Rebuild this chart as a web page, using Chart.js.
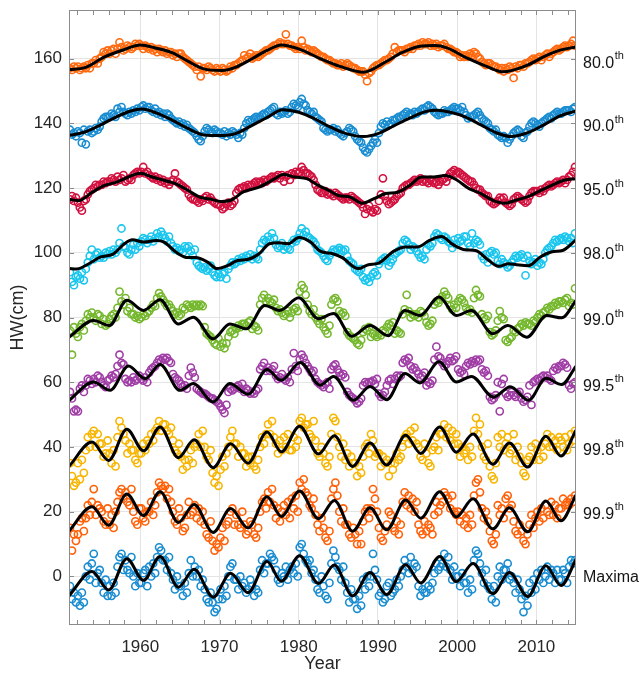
<!DOCTYPE html>
<html>
<head>
<meta charset="utf-8">
<script src="https://cdn.jsdelivr.net/npm/chart.js@4.4.1/dist/chart.umd.min.js"></script>
<style>
  html, body { margin: 0; padding: 0; background: #ffffff; }
  canvas { display: block; }
</style>
</head>
<body>
<canvas id="chart" width="644" height="677"></canvas>
<script>
// High-water percentiles (cm), four samples per year, 1951-2014, each level shifted by 20 cm
const hw80 = [
  157,156.5,157.5,157, 157.5,156.5,157,157.5, 157,158,157,158.5, 158.5,159.5,158.5,160,
  160.5,162,161.5,162.5, 161.5,162.5,163,161.5, 163,165,163.5,162.5, 163,164,163.5,163,
  163.5,164.5,164,164.5, 164,163,164,163.5, 163,163.5,162.5,163, 162,163,162.5,162,
  162.5,161.5,162,162, 161,161.5,160.5,161.5, 161.5,160.5,160,159.5, 159,158.5,158,157.5,
  156.5,157.5,154.5,157, 157,156.5,157.5,157, 156.5,156,157,156.5, 156,157,156.5,156,
  156.5,157.5,157,158, 158,158.5,159,159.5, 161,160,160.5,161.5, 160,160.5,161,160.5,
  161,161.5,162,162.5, 162.5,163,163.5,164, 164,164.5,165,164.5, 164.5,167.5,164.5,164,
  164,163.5,163,163.5, 163,165.5,163.5,162.5, 163,162.5,162,162.5, 162,161.5,161,160.5,
  160.5,160,159.5,159.5, 159,158.5,158.5,158, 158,158.5,157.5,158, 158.5,158,157.5,157,
  157,156.5,156,156, 156,155,153,155.5, 156,157,157.5,158, 158,158.5,159,159.5,
  159.5,160,160.5,161.5, 163.5,162,162.5,162.5, 162.5,162,163,163, 163.5,163,164,164,
  164.5,164,165,164.5, 164.5,165,164,164.5, 164,164.5,163.5,164, 164,164.5,163.5,163,
  163,162.5,162,162, 161.5,160.5,161,160.5, 161,160.5,161.5,161, 162,161.5,160.5,160,
  159,158.5,158,158.5, 158.5,158,157.5,157.5, 157,156.5,157,156, 157,156.5,157.5,157,
  154,157.5,157,158, 158,157.5,158.5,158.5, 159,159.5,160,159.5, 160,160.5,159.5,160.5,
  161,161.5,160.5,161.5, 162,162.5,163,162.5, 163,163.5,164,163.5, 164,164.5,165.5,164
];
const hw90 = [
  138,136.5,137,136, 137.5,137,134,138, 133.5,137.5,138,137, 137.5,138.5,138,139,
  140.5,141.5,142,142, 142,143,142.5,142, 144.5,143.5,145,143.5, 143,142.5,143.5,143,
  144,143.5,144.5,144, 145,145.5,144.5,145, 145,144,143.5,144.5, 143,143.5,142.5,143,
  142,143,142.5,141.5, 141,140.5,140,140.5, 139.5,140,139,139.5, 138.5,138,137.5,137,
  136,135,134.5,136, 137.5,138.5,138,137.5, 137,138,137.5,137, 137,136.5,137.5,136,
  137,136.5,137.5,137, 136.5,135.5,137,136.5, 138.5,140,141,140.5, 141,141.5,142,141.5,
  142,142.5,143,142.5, 143.5,144,144.5,145, 143,142.5,143.5,143, 143.5,144,143,143.5,
  145,146,145.5,145, 146.5,147.5,146,145.5, 144,143.5,143,143.5, 142,141.5,141,140.5,
  138.5,138,137.5,138, 138,138.5,137.5,138, 137,136.5,136,137, 137.5,138.5,138,137.5,
  136,135,134.5,134, 132.5,131.5,131,132, 133,134,135,134, 137,139,140,139.5,
  140.5,139.5,140,141, 141,141.5,142,141.5, 142.5,143,143.5,142.5, 143,142.5,143.5,143,
  143.5,144,144.5,144, 145,145.5,145,144.5, 143.5,143,142.5,143, 143,144,143.5,143.5,
  144,144.5,145,144.5, 144.5,144,145,143.5, 142.5,141.5,142,142, 142.5,143,143.5,142.5,
  141.5,141,140.5,140, 138.5,138,137.5,138, 136.5,136,135.5,136, 135.5,134,135,136,
  137,137.5,138,137.5, 136,135.5,137,137.5, 139,140,140.5,140, 139.5,139,140,140.5,
  141,141.5,142,141.5, 142.5,143,143.5,143, 143,143.5,144,144, 144,143.5,144.5,145
];
const hw95 = [
  116.5,117.5,116,117, 115.5,114,113,116, 116.5,118,119,119.5, 120,121,120.5,121,
  121,122,121.5,122, 122,123,122.5,122, 123.5,122.5,123,124, 122,122.5,123,122.5,
  124,124.5,125,124.5, 125,126.5,124.5,125, 124,123.5,123,123.5, 122.5,123,122,122.5,
  121.5,122,121,122, 122.5,124.5,122,121.5, 121,120.5,120,119.5, 118,117,116.5,116.5,
  116,115.5,116.5,116, 117,117.5,116.5,117, 116,115.5,115,115, 114.5,113.5,114,115,
  115.5,114.5,115,116, 118.5,119.5,120,120, 120.5,120,121,120.5, 121,121.5,122,121.5,
  122,121.5,122.5,122, 122.5,123,123.5,123, 123.5,124,123,124, 122,123.5,124,122.5,
  124.5,124,125,124.5, 125,126.5,125.5,124.5, 124.5,124,123.5,122.5, 121,119.5,119,118.5,
  118.5,119,118,118.5, 118,117.5,118.5,118, 117.5,117,116.5,117, 117,116.5,117.5,117,
  116.5,116,115.5,115, 114,112,113.5,114.5, 113,112.5,113.5,113, 116,118,123,117.5,
  116,115,115.5,116, 116.5,117.5,118,118.5, 120,120.5,121,121, 121.5,122,122.5,122,
  122.5,123,122,122.5, 122,121.5,122.5,122, 121.5,122,121,122, 122.5,123,122,123.5,
  124.5,125,125.5,124.5, 125,124.5,124,123.5, 123,122.5,122,122, 121,120,119.5,119.5,
  118.5,118,117.5,117.5, 116,115.5,115,115.5, 116,117,116.5,117, 115.5,115,114.5,115,
  116.5,117,117.5,117, 116.5,116,115.5,116, 117.5,118.5,119,119, 119,118.5,119.5,119,
  120,120.5,121,120.5, 121,121.5,122,121.5, 122,122.5,121.5,122.5, 123.5,124,125,126.5
];
const hw98 = [
  94,91,90,92.5, 93,92,94,91.5, 95,97,99,101, 98,99.5,100,98.5,
  99,98.5,100,99.5, 100.5,99.5,101,100, 101,103,107.5,102, 101.5,100,99.5,101,
  102.5,101,103,102, 103.5,104.5,104,103, 104,105,103.5,104.5, 106,105,106.5,105.5,
  104.5,103.5,105,103, 102,101,101.5,100.5, 101,100,102,101.5, 102,100.5,99,101,
  97,96,95.5,95, 95.5,94.5,95,96, 94,93,92.5,93.5, 92.5,93.5,94,92,
  95,96,97,96.5, 97,98,97.5,98.5, 98,99,98.5,99.5, 98,99,98.5,98,
  101,103,104,103.5, 105,104,106,104.5, 102.5,101.5,102,103, 101,102,101.5,101,
  103,104,103.5,104.5, 106,107.5,105.5,106.5, 105,104.5,104,103.5, 102.5,101,100.5,100,
  99,98,97.5,99, 100,101,100.5,101, 101.5,101,100.5,101, 99,97.5,97,96.5,
  95,94.5,94,95, 92.5,91.5,92,91, 92.5,93.5,94,93, 96.5,97.5,98,98.5,
  97.5,96,97,98, 99.5,100,100.5,101, 103,104,103.5,102.5, 101,102,101.5,100.5,
  99.5,98.5,99,98, 101,102.5,102,103, 105,106,105.5,104.5, 104,105,104.5,103.5,
  103,101.5,104,102.5, 104.5,103.5,104,105, 105,103,102,106, 103,104,103.5,102.5,
  99,98,99.5,97, 100,100.5,99.5,100, 97.5,96.5,98,97, 96.5,95.5,96,97,
  98,99,98.5,99, 99.5,98.5,93,99, 97.5,96.5,97,98, 96,97,96.5,98,
  100,101,101.5,102, 103,104,103.5,104, 104.5,104,105,104.5, 103.5,104.5,103,106
];
const hw99 = [
  76,68.5,77,75, 74,77,78,76, 79,81,80,81.5, 80,79,81,80.5,
  78,79.5,77.5,78, 79.5,80.5,81,80, 83,88,85,84, 86,82,83,81,
  81,80,80.5,79.5, 80,81,80.5,81.5, 82,83,84,83.5, 86,87.5,86.5,85.5,
  84.5,83.5,84,83, 82,81,81.5,80.5, 81,83,82.5,84, 83.5,83,84,83.5,
  84,83.5,84,83.5, 77,75,74.5,74, 73,72,71.5,73.5, 71,72,70.5,72,
  74,75.5,76,75, 76.5,77.5,77,78, 78,77.5,78.5,79, 76.5,77.5,77,76,
  84,86,87,85, 86,85,84.5,85.5, 83,82,82.5,81.5, 80.5,81,82,80,
  81.5,82.5,83,82, 88,90,89,87, 84,82,81,82.5, 80,79,78,79.5,
  77,76,75,77.5, 84,85.5,86,85, 82,81,81.5,80.5, 75.5,74.5,74,73.5,
  73,72,71.5,73, 75.5,76.5,76,77, 74,75,74.5,74, 75,74.5,76,75.5,
  77,78,77.5,78.5, 75,76,75.5,75, 81,82.5,87,82, 80,81,80.5,81,
  80,82,81.5,80.5, 78.5,77.5,78,79, 84,85,84.5,85.5, 86.5,88,87,86,
  83.5,82.5,84,83, 85,86,85.5,84.5, 83,82,82.5,81.5, 86,88.5,87,86.5,
  81,80,79.5,80.5, 75.5,74.5,75,76, 79,82,80,79.5, 73,72.5,73.5,74,
  76,75.5,76.5,77, 78,77.5,78.5,78, 78,77.5,79,78.5, 80,81,80.5,81.5,
  82,83,82.5,83.5, 83.5,84.5,84,85, 85,84.5,85.5,86, 83.5,84.5,84,89
];
const hw995 = [
  57,55,51,51.5, 51,58,59,57, 59,61,60.5,59.5, 61,60,62,61.5,
  60,59,58.5,60.5, 61,62,61.5,62.5, 65,68.5,66,65.5, 61,60,60.5,60,
  61.5,60.5,61,62, 61,60.5,61.5,60, 63,64,64.5,65, 66,67,66.5,67.5,
  67,67.5,66.5,66, 62.5,61.5,61,60.5, 59.5,58.5,59,58, 62,64.5,63,61.5,
  58,57.5,57,56.5, 56.5,56,55.5,55, 55,54.5,54,53.5, 52.5,51.5,50.5,53,
  57,58,57.5,58, 58.5,59,58,59.5, 57,58,57.5,56.5, 57,56.5,57.5,58,
  64,65,66,63.5, 64.5,63.5,64,65, 62,61,61.5,62.5, 61,60.5,61.5,60,
  64,69,65,63.5, 67,68.5,67.5,66, 65,64,63,63.5, 61,60,59.5,59,
  58.5,59.5,60,58, 64,65,65.5,64, 63,62,62.5,61.5, 57,56,55.5,55,
  54.5,53.5,54,55, 59,60,59.5,60, 60,60.5,59.5,61, 56.5,55.5,56,57,
  59,60.5,61,59.5, 61,62,61.5,62, 66,67,66.5,67.5, 65,64,64.5,63.5,
  62.5,61.5,62,63, 59,60,59.5,60.5, 67,71,68,67.5, 66,65,65.5,66.5,
  67.5,66.5,67,68, 64,63,63.5,62.5, 65,66,65.5,66.5, 66,67,66.5,67,
  64,63,63.5,62, 55.5,54.5,55,56, 60,51,59.5,61, 56.5,55.5,56,57,
  56,55.5,56.5,57, 55,54,54.5,55.5, 59,53,60,60.5, 61,60.5,61.5,62,
  61.5,62,61,60.5, 63.5,64.5,64,65, 65,66,65.5,64.5, 59,58,59.5,60
];
const hw998 = [
  35,31,28,29, 35,30,36,32, 39,43,40,44, 45,40,44,41,
  41,37,38,42, 38,35,39,34, 43,48,46,44, 42,38,41,39,
  39,36,35,38, 38,41,39,42, 41,44,42,45, 46,48,45,47,
  47,45,44,46, 42,39,38,41, 37,33,36,34, 36,39,35,40,
  41,44,40,45, 40,37,36,39, 32,29,31,28, 33,37,34,38,
  40,43,45,41, 41,37,40,38, 38,34,37,35, 37,34,33,36,
  40,43,41,44, 47,44,48,43, 41,38,42,39, 43,40,44,39,
  39,43,40,42, 48,49,46,47, 47,44,43,48, 42,38,37,40,
  38,35,34,37, 44,49,48,43, 40,37,41,36, 38,34,37,35,
  35,31,34,32, 37,40,41,38, 44,42,37,38, 38,34,37,35,
  36,31,35,33, 35,38,36,37, 40,43,44,41, 45,42,46,41,
  40,37,36,41, 38,35,34,39, 40,43,39,44, 44,47,43,46,
  42,45,41,44, 41,37,40,38, 39,36,40,37, 45,49,44,47,
  40,37,36,41, 34,31,30,35, 43,40,44,39, 41,43,38,39,
  44,36,40,37, 35,32,31,36, 37,40,36,41, 39,36,40,37,
  41,44,40,43, 40,42,39,43, 42,40,43,39, 41,44,42,45
];
const hw999 = [
  15,8,13,11, 13,17,18,14, 18,22,19,23, 27,19,22,21,
  20,17,16,21, 16,19,15,20, 23,26,27,24, 26,23,22,27,
  20,17,16,21, 21,18,17,20, 20,23,19,22, 26,29,28,27,
  28,24,27,23, 20,17,16,21, 18,14,15,19, 23,19,20,22,
  18,21,17,20, 16,13,12,17, 11,8,10,9, 12,15,11,16,
  17,20,21,16, 19,16,15,20, 16,13,14,17, 16,13,12,15,
  20,23,24,21, 26,23,27,22, 18,21,17,20, 22,19,23,18,
  24,21,25,20, 29,27,30,26, 25,22,21,24, 19,16,14,18,
  15,12,11,14, 24,27,29,25, 20,17,21,16, 16,13,12,15,
  13,10,14,10, 17,20,21,18, 21,27,24,20, 15,12,11,14,
  16,20,19,15, 14,17,13,16, 23,26,22,25, 21,24,20,23,
  16,14,13,17, 14,16,15,13, 19,23,20,22, 23,26,25,24,
  21,25,20,19, 20,17,19,16, 18,15,19,16, 25,29,30,26,
  21,18,20,17, 14,11,10,13, 22,19,21,18, 24,25,21,22,
  17,14,13,16, 14,11,10,13, 16,19,15,18, 20,17,21,18,
  22,20,19,23, 19,22,18,21, 21,24,22,23, 22,24,23,25
];
const hwMax = [
  -3,-7,-5,-8, -6,-9,-5,-8, 0,3,-1,4, 7,-2,1,2,
  -2,-5,-1,-6, -3,-6,-2,-5, 3,6,7,2, 5,2,1,6,
  0,-3,1,-2, -2,1,2,-3, 3,0,4,1, 6,9,8,5,
  5,2,6,1, -1,-4,0,-3, -3,-6,-2,-5, 1,5,0,3,
  0,2,-3,-1, -4,-7,-8,-5, -8,-11,-10,-7, -4,-7,-3,-6,
  0,3,4,-1, -1,-4,0,-3, -2,-5,-4,-1, -3,-6,-4,-5,
  2,5,1,4, 4,7,6,5, 2,-1,-2,1, 0,3,-1,2,
  3,1,4,0, 9,10,7,5, 4,5,1,2, -1,-4,-5,0,
  -3,-6,-7,-2, 4,8,6,3, 2,-1,3,-2, -5,-8,-4,-7,
  -7,-10,-6,-9, -1,-4,0,-3, 0,7,2,-1, -6,-5,-8,-7,
  -3,-2,-6,-5, -4,-1,-3,0, 2,5,3,1, 6,2,4,3,
  -3,-6,-4,-5, -5,-3,-4,-2, 1,4,2,3, 4,7,3,6,
  2,-1,3,0, 0,-3,1,-2, -2,-5,-1,-4, 5,8,7,4,
  1,-2,2,-3, -4,-7,-3,-8, 0,3,-1,2, 2,4,-1,0,
  -2,-5,-1,-4, -7,-11,-6,-9, -2,-5,-1,-4, 1,-1,2,-2,
  0,3,-1,2, 1,-2,2,-1, -1,2,1,-2, 3,5,4,5
];

// Fitted nodal / perigean cycles: [year, value] knots
const fit80 = [[1951,156.6],[1953,157.2],[1955.5,160.5],[1958,162.8],[1960,164.2],[1962,163.2],[1964,161.8],[1966,159.2],[1968,156.8],[1970.3,156.3],[1972,157.3],[1974,159.8],[1976,162.5],[1977.8,164.2],[1980,163],[1982.7,160],[1985.2,157.6],[1988.2,155.8],[1991,159],[1993,161.8],[1995.3,163.8],[1997.2,164],[1998.7,163.3],[2001.2,160.2],[2003.7,157.6],[2005.8,155.9],[2008.8,157.9],[2011.3,161],[2013,162.6],[2015,163.6]];
const fit90 = [[1951,136.2],[1953,137.3],[1955,139.5],[1957,142],[1958.8,143.8],[1960.2,144.4],[1962,143.2],[1964,141],[1966,138.4],[1968,136.4],[1970,136.2],[1972,136.8],[1974,139.2],[1976,141.8],[1978,144.2],[1980,143.4],[1982,141.4],[1984,138.8],[1986,136.8],[1988.2,135.9],[1990,136.8],[1992,139.2],[1994,141.6],[1996,143.6],[1997.5,144],[1999,143.5],[2001,142],[2003,139.5],[2005,137],[2006.8,135.9],[2009,137.2],[2011,139.6],[2013,142.3],[2015,143.8]];
const fit95 = [[1951,116.5],[1952.2,116.1],[1954,118.8],[1955.5,120.8],[1957,121.8],[1958.5,123.4],[1960,124.6],[1961.5,123.4],[1963,122.4],[1964.5,121.3],[1966,119.3],[1967.5,117.2],[1969,116.5],[1970.3,115.8],[1971.5,116.3],[1973,118.8],[1975,120.3],[1977,122.9],[1978,124.2],[1979.5,123.4],[1981,122.9],[1982.5,120.8],[1984,119],[1985,117.7],[1986.5,117.2],[1988,115.3],[1989.5,116.7],[1991,118.3],[1992.5,118.7],[1994,120.8],[1995.5,123.4],[1997,123.4],[1998.5,123.9],[2000,122.4],[2001.5,119.8],[2003,118.3],[2004.5,116.2],[2006,115.3],[2007.5,116.3],[2009,117.4],[2010.5,119.2],[2012,120.9],[2013.5,122.4],[2015,122.9]];
const fit98 = [[1951,95.1],[1952,95],[1953.5,96.6],[1955,98.7],[1956.5,99.5],[1958,102.8],[1959,104],[1960.5,103.3],[1962,103.8],[1963,103.3],[1964.5,100.2],[1966,98.5],[1967,98.5],[1968.5,97.1],[1969.7,95.1],[1971,96],[1972.3,97.6],[1973.5,97.9],[1975,99.7],[1976.3,102.8],[1977.5,103.1],[1978.7,102.8],[1980,104.7],[1981.5,103.3],[1982.7,100.5],[1984.3,99.7],[1985.5,98.5],[1987.5,95.1],[1988.8,96.3],[1990,96.7],[1992,100.5],[1993.5,101.8],[1995,101.8],[1996.5,103.8],[1998,105],[1999.5,102.5],[2001,100.9],[2002.3,100.7],[2004,97.6],[2005.2,95.8],[2006.5,96.6],[2007.5,96.3],[2009,96],[2010.5,98.7],[2012,100.3],[2013.3,100.7],[2015,104]];
const fit99 = [[1951,73.9],[1954.1,79.1],[1956.1,77.5],[1958.3,85.3],[1960.4,82.2],[1962.5,85.5],[1964.8,78],[1966.7,80.1],[1969.2,73.4],[1971.3,78],[1973.4,76.5],[1975.7,83.7],[1977.6,82.2],[1980,86.1],[1982.5,79.6],[1984.4,81.2],[1986.7,74.2],[1989,77.5],[1991.3,74.4],[1993.4,82.2],[1995.3,80.6],[1997.7,86.3],[1999.9,80.6],[2001.8,82.2],[2004.5,75],[2006.4,77.5],[2008.8,73.9],[2011.3,80.6],[2013.2,79.9],[2015,85.3]];
const fit995 = [[1951,54.4],[1954.1,60.1],[1956.2,57.5],[1958.5,65],[1960.6,61.1],[1962.5,65.5],[1965,57.5],[1966.7,59.6],[1969.2,53.9],[1971.3,59.6],[1973.6,56.3],[1976,63.9],[1977.8,60.6],[1980.2,66.1],[1982.7,59.1],[1984.4,61.8],[1986.9,54.4],[1989,58.7],[1991.1,54.6],[1993.4,62.7],[1995.3,59.8],[1997.7,66.3],[1999.9,60.1],[2001.8,61.8],[2004.6,55.4],[2006.7,58.6],[2009,54.4],[2011.2,61.2],[2013.2,59.3],[2015,65]];
const fit998 = [[1951,34],[1953.9,41.5],[1956,35.8],[1958.3,45.5],[1960.4,38.8],[1962.5,46.2],[1964.8,36.7],[1966.8,42.2],[1969.2,33.6],[1971.4,41],[1973.6,35],[1976,44.6],[1977.8,38.5],[1980.1,46.4],[1982.5,37.8],[1984.5,43.5],[1986.8,34],[1989,41.2],[1991.1,34.4],[1993.5,43.6],[1995.4,38],[1997.8,46.2],[1999.9,38.4],[2002,44],[2004.5,34.7],[2006.6,41.2],[2008.9,33.8],[2011.2,43.3],[2013.1,37.2],[2015,45.2]];
const fit999 = [[1951,14],[1953.9,21.5],[1956,15.8],[1958.3,25.5],[1960.4,18.8],[1962.5,26.2],[1964.8,16.7],[1966.8,22.2],[1969.2,13.6],[1971.4,21],[1973.6,15],[1976,24.6],[1977.8,18.5],[1980.1,26.4],[1982.5,17.8],[1984.5,23.5],[1986.8,14],[1989,21.2],[1991.1,14.4],[1993.5,23.6],[1995.4,18],[1997.8,26.2],[1999.9,18.4],[2002,24],[2004.5,14.7],[2006.6,21.2],[2008.9,13.8],[2011.2,23.3],[2013.1,17.2],[2015,25.2]];
const fitMax = [[1951,-6],[1953.9,1.5],[1956,-4.2],[1958.3,5.5],[1960.4,-1.2],[1962.5,6.2],[1964.8,-3.3],[1966.8,2.2],[1969.2,-6.4],[1971.4,1],[1973.6,-5],[1976,4.6],[1977.8,-1.5],[1980.1,6.4],[1982.5,-2.2],[1984.5,3.5],[1986.8,-6],[1989,1.2],[1991.1,-5.6],[1993.5,3.6],[1995.4,-2],[1997.8,6.2],[1999.9,-1.6],[2002,4],[2004.5,-5.3],[2006.6,1.2],[2008.9,-6.2],[2011.2,3.3],[2013.1,-2.8],[2015,5.2]];

// Series names, colours and where each name sits on the right
const seriesNames = ['80.0', '90.0', '95.0', '98.0', '99.0', '99.5', '99.8', '99.9', 'Maxima'];
const seriesColors = ['#FF6A10', '#1A8DD1', '#D2113F', '#1AC6EE', '#75B82E', '#A03EA6', '#F7B500', '#FF6008', '#1A8DD1'];
const nameLevels = [158.5, 139, 119.2, 99.4, 79, 58.8, 38.9, 19.2, -0.5];
const scatterSets = [hw80, hw90, hw95, hw98, hw99, hw995, hw998, hw999, hwMax];
const fitSets = [fit80, fit90, fit95, fit98, fit99, fit995, fit998, fit999, fitMax];

// Axis ticks
const xTickYears = [1952,1954,1956,1958,1960,1962,1964,1966,1968,1970,1972,1974,1976,1978,1980,1982,1984,1986,1988,1990,1992,1994,1996,1998,2000,2002,2004,2006,2008,2010,2012,2014];
const xLabelYears = [1960, 1970, 1980, 1990, 2000, 2010];
const yTickValues = [0, 20, 40, 60, 80, 100, 120, 140, 160];

const TEXT = '#262626';
const GRID = '#e4e4e4';
const FRAME = '#8c8c8c';
const TICK_LEN = 5;
const FONT = '"Liberation Sans", Arial, Helvetica, sans-serif';

Chart.defaults.font.family = FONT;

const datasets = [];
scatterSets.forEach((vals, s) => {
  datasets.push({
    type: 'scatter',
    data: vals.map((v, i) => ({ x: 1951 + (i + 0.5) / 4, y: v })),
    pointStyle: 'circle',
    pointRadius: 3.6,
    pointBorderWidth: 1.6,
    pointBackgroundColor: 'rgba(0,0,0,0)',
    pointBorderColor: seriesColors[s],
    showLine: false,
    order: 1
  });
  datasets.push({
    type: 'line',
    data: fitSets[s].map(p => ({ x: p[0], y: p[1] })),
    borderColor: '#000000',
    borderWidth: 3,
    pointRadius: 0,
    fill: false,
    cubicInterpolationMode: 'monotone',
    order: 0
  });
});

// Box frame with inward tick marks, plus the percentile names on the right
const framePlugin = {
  id: 'frameAndNames',
  afterDatasetsDraw(chart) {
    const { ctx, chartArea: a, scales: { x, y } } = chart;
    ctx.save();
    ctx.strokeStyle = FRAME;
    ctx.lineWidth = 1;
    ctx.beginPath();
    xTickYears.forEach(v => {
      const px = Math.round(x.getPixelForValue(v)) + 0.5;
      ctx.moveTo(px, a.bottom); ctx.lineTo(px, a.bottom - TICK_LEN);
      ctx.moveTo(px, a.top); ctx.lineTo(px, a.top + TICK_LEN);
    });
    yTickValues.forEach(v => {
      const py = Math.round(y.getPixelForValue(v)) + 0.5;
      ctx.moveTo(a.left, py); ctx.lineTo(a.left + TICK_LEN, py);
      ctx.moveTo(a.right, py); ctx.lineTo(a.right - TICK_LEN, py);
    });
    ctx.stroke();
    ctx.strokeRect(Math.round(a.left) + 0.5, Math.round(a.top) + 0.5,
                   Math.round(a.right - a.left) - 1, Math.round(a.bottom - a.top) - 1);
    ctx.restore();
  },
  afterDraw(chart) {
    const { ctx, chartArea: a, scales: { y } } = chart;
    ctx.save();
    ctx.fillStyle = '#141414';
    ctx.textBaseline = 'middle';
    ctx.textAlign = 'left';
    seriesNames.forEach((name, i) => {
      const py = y.getPixelForValue(nameLevels[i]);
      const px = a.right + 7;
      ctx.font = '16px ' + FONT;
      ctx.fillText(name, px, py);
      if (name !== 'Maxima') {
        const w = ctx.measureText(name).width;
        ctx.font = '11px ' + FONT;
        ctx.fillText('th', px + w + 0.5, py - 7);
      }
    });
    ctx.restore();
  }
};

new Chart(document.getElementById('chart'), {
  type: 'scatter',
  data: { datasets },
  options: {
    responsive: false,
    animation: false,
    events: [],
    layout: { padding: { left: 0, right: 68, top: 10, bottom: 0 } },
    plugins: { legend: { display: false }, tooltip: { enabled: false } },
    scales: {
      x: {
        type: 'linear',
        min: 1951,
        max: 2015,
        afterBuildTicks: s => { s.ticks = xTickYears.map(v => ({ value: v })); },
        afterFit: s => { s.height = 52; s.paddingLeft = 0; s.paddingRight = 0; },
        grid: {
          color: c => (c.tick && c.tick.value % 10 === 0) ? GRID : 'rgba(0,0,0,0)',
          drawTicks: false,
          lineWidth: 1
        },
        border: { display: false },
        ticks: {
          autoSkip: false,
          maxRotation: 0,
          padding: 12,
          color: TEXT,
          font: { size: 17 },
          callback: v => xLabelYears.includes(v) ? String(v) : ''
        },
        title: { display: true, text: 'Year', color: TEXT, font: { size: 18 }, padding: { top: 0, bottom: 2 } }
      },
      y: {
        type: 'linear',
        min: -15,
        max: 175,
        afterBuildTicks: s => { s.ticks = yTickValues.map(v => ({ value: v })); },
        afterFit: s => { s.width = 69; s.paddingTop = 0; s.paddingBottom = 0; },
        grid: { color: GRID, drawTicks: false, lineWidth: 1 },
        border: { display: false },
        ticks: { padding: 7, color: TEXT, font: { size: 17 }, callback: v => String(v) },
        title: { display: true, text: 'HW(cm)', color: TEXT, font: { size: 18 }, padding: { top: 7, bottom: 0 } }
      }
    }
  },
  plugins: [framePlugin]
});
</script>
</body>
</html>
